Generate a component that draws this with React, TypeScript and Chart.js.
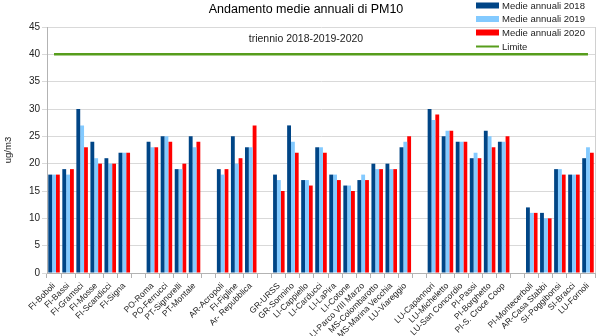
import React, { useEffect, useRef } from "react";
import { Chart, registerables } from "chart.js";

Chart.register(...registerables);

const categories: string[] = [
  "FI-Boboli", "FI-Bassi", "FI-Gramsci", "FI-Mosse", "FI-Scandicci", "FI-Signa", "",
  "PO-Roma", "PO-Ferrucci", "PT-Signorelli", "PT-Montale", "",
  "AR-Acropoli", "FI-Figline", "Ar- Repubblica", "",
  "GR-URSS", "GR-Sonnino", "LI-Cappiello", "LI-Carducci", "LI-LaPira", "LI-Cotone",
  "LI-Parco VIII Marzo", "MS-Colombarotto", "MS-Marina Vecchia", "LU-Viareggio", "",
  "LU-Capannori", "LU-Micheletto", "LU-San Concordio", "PI-Passi", "PI-Borghetto", "PI-S. Croce Coop", "",
  "PI-Montecerboli", "AR-Casa Stabbi", "SI-Poggibonsi", "SI-Bracci", "LU-Fornoli",
];

const media2018: (number | null)[] = [
  18, 19, 30, 24, 21, 22, null,
  24, 25, 19, 25, null,
  19, 25, 23, null,
  18, 27, 17, 23, 18, 16, 17, 20, 20, 23, null,
  30, 25, 24, 21, 26, 24, null,
  12, 11, 19, 18, 21,
];

const media2019: (number | null)[] = [
  18, 18, 27, 21, 20, 22, null,
  23, 25, 19, 23, null,
  18, 20, 23, null,
  17, 24, 17, 23, 18, 16, 18, 19, 19, 24, null,
  28, 26, 24, 22, 25, 24, null,
  11, 10, 19, 18, 23,
];

const media2020: (number | null)[] = [
  18, 19, 23, 20, 20, 22, null,
  23, 24, 20, 24, null,
  19, 21, 27, null,
  15, 22, 16, 22, 17, 15, 17, 19, 19, 25, null,
  29, 26, 24, 21, 23, 25, null,
  11, 10, 18, 18, 22,
];

const limite: number[] = [
  40, 40, 40, 40, 40, 40, 40, 40, 40, 40, 40, 40, 40, 40, 40, 40, 40, 40, 40, 40,
  40, 40, 40, 40, 40, 40, 40, 40, 40, 40, 40, 40, 40, 40, 40, 40, 40, 40, 40,
];

const yTicks: number[] = [0, 5, 10, 15, 20, 25, 30, 35, 40, 45];

const seriesNames = ["Medie annuali 2018", "Medie annuali 2019", "Medie annuali 2020", "Limite"];
const FONT = "'Liberation Sans', Arial, sans-serif";

const overlayPlugin = {
  id: "overlay",
  afterDraw(chart: any) {
    const ctx = chart.ctx as CanvasRenderingContext2D;
    ctx.save();
    // title
    ctx.fillStyle = "#000000";
    ctx.textAlign = "center";
    ctx.textBaseline = "middle";
    ctx.font = `12.5px ${FONT}`;
    ctx.fillText("Andamento medie annuali di PM10", 306, 10);
    ctx.font = `10.5px ${FONT}`;
    ctx.fillStyle = "#222222";
    ctx.fillText("triennio 2018-2019-2020", 306, 39);
    // legend
    const ys = [5.5, 19, 32.5, 46.5];
    chart.data.datasets.forEach((ds: any, i: number) => {
      const y = ys[i];
      if (ds.type === "line") {
        ctx.strokeStyle = ds.borderColor;
        ctx.lineWidth = 2;
        ctx.beginPath();
        ctx.moveTo(476, y);
        ctx.lineTo(499, y);
        ctx.stroke();
      } else {
        ctx.fillStyle = ds.backgroundColor;
        ctx.fillRect(476, y - 3, 23, 6);
      }
      ctx.fillStyle = "#222222";
      ctx.textAlign = "left";
      ctx.font = `9.5px ${FONT}`;
      ctx.fillText(ds.label, 502, y + 0.5);
    });
    // right wall
    const a = chart.chartArea;
    ctx.strokeStyle = "#d0d0d0";
    ctx.lineWidth = 1;
    ctx.beginPath();
    ctx.moveTo(Math.round(a.right) + 0.5, a.top);
    ctx.lineTo(Math.round(a.right) + 0.5, a.bottom);
    ctx.stroke();
    ctx.restore();
  },
};

export default function App() {
  const ref = useRef<HTMLCanvasElement | null>(null);

  useEffect(() => {
    document.body.style.margin = "0";
    if (!ref.current) return;
    const chart = new Chart(ref.current, {
      type: "bar",
      data: {
        labels: categories,
        datasets: [
          {
            label: seriesNames[0],
            data: media2018,
            backgroundColor: "#004586",
            categoryPercentage: 0.82,
            barPercentage: 1,
            order: 1,
          },
          {
            label: seriesNames[1],
            data: media2019,
            backgroundColor: "#83caff",
            categoryPercentage: 0.82,
            barPercentage: 1,
            order: 1,
          },
          {
            label: seriesNames[2],
            data: media2020,
            backgroundColor: "#ff0000",
            categoryPercentage: 0.82,
            barPercentage: 1,
            order: 1,
          },
          {
            type: "line",
            label: seriesNames[3],
            data: limite,
            borderColor: "#579d1c",
            backgroundColor: "#579d1c",
            borderWidth: 2.5,
            pointRadius: 0,
            order: 0,
          } as any,
        ],
      },
      options: {
        animation: false,
        responsive: false,
        maintainAspectRatio: false,
        layout: { padding: { top: 27, right: 5, left: 0, bottom: 0 } },
        plugins: {
          legend: { display: false },
          title: { display: false },
          tooltip: { enabled: false },
        },
        scales: {
          x: {
            offset: true,
            grid: {
              display: true,
              drawOnChartArea: false,
              drawTicks: true,
              tickLength: 5,
              color: "#b3b3b3",
              offset: true,
            },
            border: { color: "#b3b3b3" },
            ticks: {
              autoSkip: false,
              maxRotation: 45,
              minRotation: 45,
              color: "#222222",
              font: { family: FONT, size: 8.5 },
              padding: 3,
            },
            afterFit: (s: any) => {
              s.height = 63;
            },
          },
          y: {
            min: 0,
            max: 45,
            afterBuildTicks: (s: any) => {
              s.ticks = yTicks.map((v) => ({ value: v }));
            },
            grid: { color: "#d9d9d9", tickLength: 5, drawTicks: true },
            border: { color: "#b3b3b3" },
            ticks: {
              color: "#222222",
              font: { family: FONT, size: 10 },
              padding: 2,
            },
            title: {
              display: true,
              text: "ug/m3",
              color: "#222222",
              font: { family: FONT, size: 9.5 },
              padding: { top: 3, bottom: 0 },
            },
            afterFit: (s: any) => {
              s.width = 47;
            },
          },
        },
      },
      plugins: [overlayPlugin],
    });
    return () => chart.destroy();
  }, []);

  return (
    <div style={{ width: 600, height: 336 }}>
      <canvas ref={ref} width={600} height={336} style={{ display: "block" }} />
    </div>
  );
}
